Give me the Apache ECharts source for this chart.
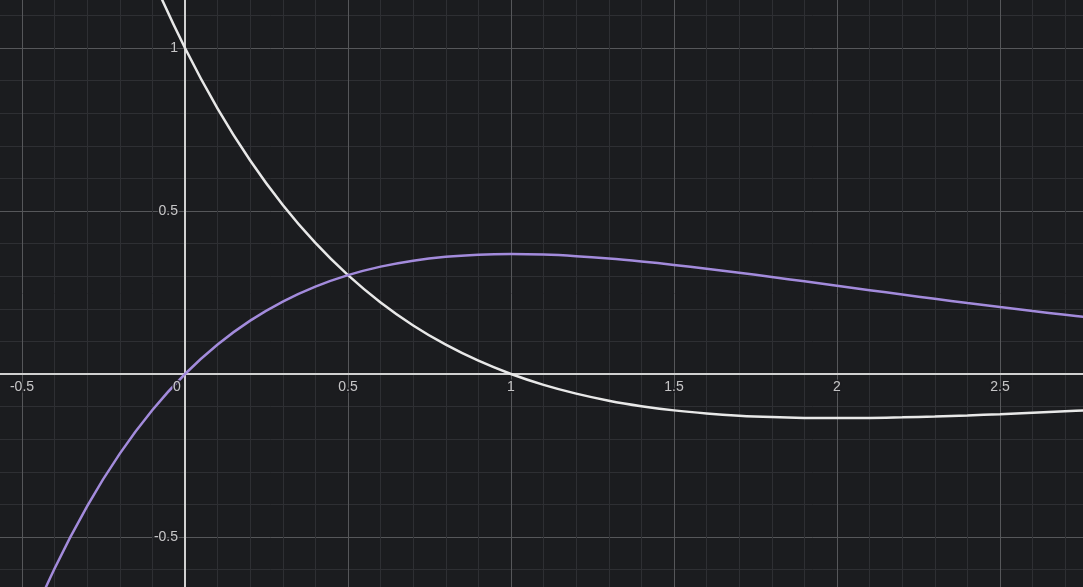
<!DOCTYPE html>
<html>
<head>
<meta charset="utf-8">
<script src="https://cdn.jsdelivr.net/npm/echarts@6/dist/echarts.min.js"></script>
<style>
html,body{margin:0;padding:0;background:#1b1c1f;}
#c{width:1083px;height:587px;}
</style>
</head>
<body>
<div id="c"></div>
<script>
// sample x positions
const xs = [-0.6,-0.5,-0.4,-0.3,-0.2,-0.1,0,0.1,0.2,0.3,0.4,0.5,0.6,0.7,0.8,0.9,1.0,1.1,1.2,1.3,1.4,1.5,1.6,1.7,1.8,1.9,2.0,2.1,2.2,2.3,2.4,2.5,2.6,2.7,2.8];
// purple curve values
const purpleY = [-1.0933,-0.8244,-0.5967,-0.4050,-0.2443,-0.1105,0,0.0905,0.1637,0.2222,0.2681,0.3033,0.3293,0.3476,0.3595,0.3659,0.3679,0.3662,0.3614,0.3543,0.3452,0.3347,0.3230,0.3106,0.2975,0.2842,0.2707,0.2572,0.2438,0.2306,0.2177,0.2052,0.1931,0.1815,0.1703];
// white curve values
const whiteY = [2.9154,2.4731,2.0886,1.7548,1.4657,1.2157,1,0.8144,0.6550,0.5186,0.4022,0.3033,0.2195,0.1490,0.0899,0.0407,0,-0.0333,-0.0602,-0.0818,-0.0986,-0.1116,-0.1211,-0.1279,-0.1322,-0.1346,-0.1353,-0.1347,-0.1330,-0.1303,-0.1270,-0.1231,-0.1188,-0.1143,-0.1095];
// tick labels
const xTickValues = [-0.5,0,0.5,1,1.5,2,2.5];
const xTickLabels = ['-0.5','0','0.5','1','1.5','2','2.5'];
const yTickValues = [-0.5,0.5,1];
const yTickLabels = ['-0.5','0.5','1'];

const pairs = (ys) => xs.map((x,i)=>[x,ys[i]]);

const chart = echarts.init(document.getElementById('c'), null, {renderer:'canvas'});
const labelStyle = {
  color:'#f0f0f0', fontSize:14, fontFamily:'Liberation Sans, Arial, sans-serif',
  textBorderColor:'#1b1c1f', textBorderWidth:3
};
const axisCommon = {
  type:'value', interval:0.5,
  axisLine:{show:true, onZero:true, lineStyle:{color:'#d0d0d0', width:2}},
  axisTick:{show:false},
  axisLabel:{show:false},
  minorTick:{show:false, splitNumber:5},
  splitLine:{show:true, lineStyle:{color:'#56575a', width:1}},
  minorSplitLine:{show:true, lineStyle:{color:'#2e2f33', width:1}}
};
chart.setOption({
  backgroundColor:'#1b1c1f',
  animation:false,
  grid:{left:-141, right:-80, top:-115, bottom:-113, containLabel:false, outerBoundsMode:'none'},
  xAxis:Object.assign({}, axisCommon, {min:-1, max:3}),
  yAxis:Object.assign({}, axisCommon, {min:-1, max:1.5}),
  series:[
    {type:'line', data:pairs(whiteY), smooth:0.4, symbol:'none', clip:true,
     lineStyle:{color:'#e8e8e8', width:2.5}, z:3},
    {type:'line', data:pairs(purpleY), smooth:0.4, symbol:'none', clip:true,
     lineStyle:{color:'#a38bdc', width:2.5}, z:4},
    {type:'scatter', symbolSize:0, silent:true, z:5,
     data:xTickValues.map((v,i)=>({value:[v,0], name:xTickLabels[i],
       label: v===0 ? {offset:[-8,0]} : {}})),
     label:Object.assign({show:true, position:'bottom', distance:6,
       formatter:(p)=>p.name}, labelStyle)},
    {type:'scatter', symbolSize:0, silent:true, z:5,
     data:yTickValues.map((v,i)=>({value:[0,v], name:yTickLabels[i]})),
     label:Object.assign({show:true, position:'left', distance:7,
       formatter:(p)=>p.name}, labelStyle)}
  ]
});
</script>
</body>
</html>
